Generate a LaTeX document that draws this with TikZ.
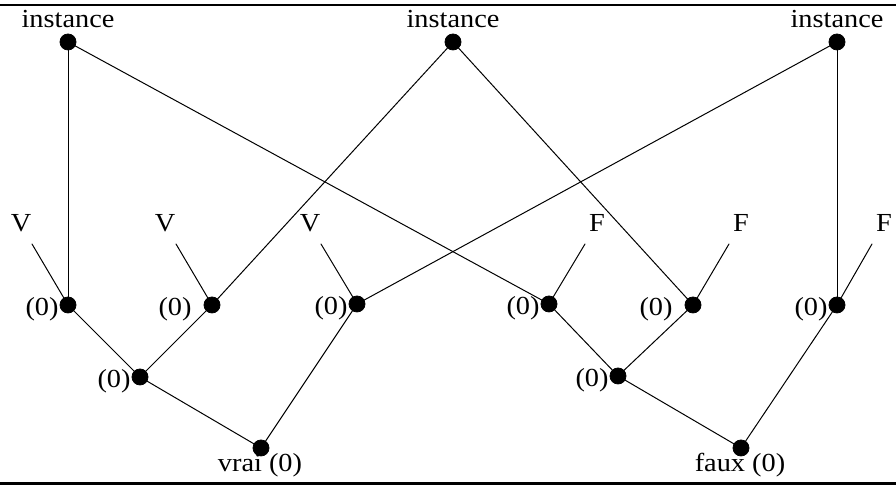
\documentclass[tikz,border=0pt]{standalone}
\usepackage{fontspec}
\setmainfont[FakeStretch=1.09]{Liberation Serif}
\usepackage{tkz-euclide}
\usetikzlibrary{calc}

\tikzset{
  lbl/.style={font=\fontsize{13pt}{15pt}\selectfont},
  lblI/.style={lbl,anchor=base,yshift=7.2pt},
  lblV/.style={lbl,anchor=base,xshift=-5.5pt,yshift=6pt},
  lblF/.style={lbl,anchor=base,xshift=6pt,yshift=6pt},
  lblZ/.style={lbl,anchor=east,inner sep=0pt,xshift=-4.5pt,yshift=-2.3pt},
  lblB/.style={lbl,anchor=base,xshift=-.5pt,yshift=-12pt}
}

\begin{document}
\begin{tikzpicture}[x=.5pt,y=.5pt]
\useasboundingbox (0,0) rectangle (896,485);
\tkzSetUpLine[line width=.5pt,color=black]
\tkzSetUpPoint[fill=black,size=8]

\tkzDefPoints{0/479.7/L1,896/479.7/R1,0/1.5/L2,896/1.5/R2}

\tkzDefPoints{68/443/I1,453/443/I2,837/443/I3}

\tkzDefPoints{32/241/P1,176/241/P2,321/241/P3}
\tkzDefPoints{585/241/P4,729/241/P5,872/241/P6}

\tkzDefPoints{68/180/A1,212/180/A2,357/181/A3}
\tkzDefPoints{549/181/A4,693/180/A5,837/180/A6}

\tkzDefPoints{140/108/B1,618/109/B2}
\tkzDefPoints{261/37/C1,741/37/C2}

\tkzDrawSegments[line width=1pt](L1,R1)
\tkzDrawSegments[line width=1.5pt](L2,R2)

\tkzDrawSegments(I1,A1 I1,A4 I2,A2 I2,A5 I3,A3 I3,A6)
\tkzDrawSegments(P1,A1 P2,A2 P3,A3 P4,A4 P5,A5 P6,A6)
\tkzDrawSegments(A1,B1 A2,B1 B1,C1 A3,C1)
\tkzDrawSegments(A4,B2 A5,B2 B2,C2 A6,C2)

\tkzDrawPoints(I1,I2,I3,A1,A2,A3,A4,A5,A6,B1,B2,C1,C2)

\tkzLabelPoint[lblI](I1){instance}
\tkzLabelPoint[lblI](I2){instance}
\tkzLabelPoint[lblI](I3){instance}

\tkzLabelPoint[lblV](P1){V}
\tkzLabelPoint[lblV](P2){V}
\tkzLabelPoint[lblV](P3){V}
\tkzLabelPoint[lblF](P4){F}
\tkzLabelPoint[lblF](P5){F}
\tkzLabelPoint[lblF](P6){F}

\tkzLabelPoint[lblZ](A1){(0)}
\tkzLabelPoint[lblZ,xshift=-5.5pt](A2){(0)}
\tkzLabelPoint[lblZ](A3){(0)}
\tkzLabelPoint[lblZ](A4){(0)}
\tkzLabelPoint[lblZ,xshift=-5.5pt](A5){(0)}
\tkzLabelPoint[lblZ](A6){(0)}
\tkzLabelPoint[lblZ](B1){(0)}
\tkzLabelPoint[lblZ](B2){(0)}

\tkzLabelPoint[lblB](C1){vrai (0)}
\tkzLabelPoint[lblB](C2){faux (0)}

\end{tikzpicture}
\end{document}
